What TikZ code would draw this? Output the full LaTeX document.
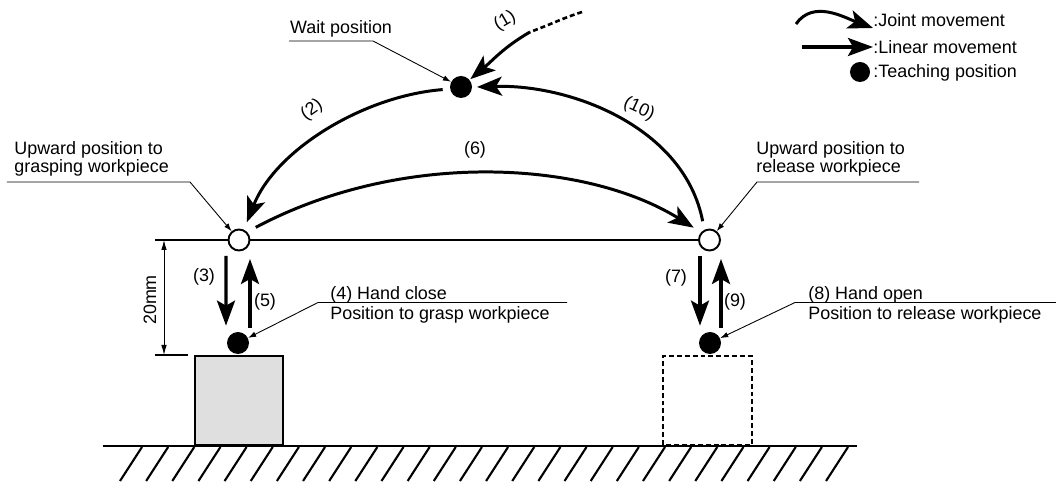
\documentclass[tikz,border=0pt]{standalone}
\usepackage{fontspec}
\setmainfont{Liberation Sans}
\usetikzlibrary{arrows.meta, calc, backgrounds}
\tikzset{
  jointmove/.style={line width=1.7pt, -{Stealth[length=5mm, width=3.8mm, inset=1.2mm]}},
  linmove/.style={line width=1.9pt, -{Stealth[length=5mm, width=3.6mm, inset=1mm]}},
  teachpos/.style={circle, fill=black, minimum size=4.4mm, inner sep=0pt},
  upperpos/.style={circle, draw=black, fill=white, line width=1.1pt, minimum size=4.2mm, inner sep=0pt},
  leader/.style={line width=0.5pt, -{Latex[length=1.6mm, width=1.1mm]}},
  dimline/.style={line width=0.5pt, {Latex[length=2mm, width=1.1mm]}-{Latex[length=2mm, width=1.1mm]}},
  thinline/.style={line width=0.6pt},
  lbl/.style={inner sep=0pt, align=left},
  hatch/.style={line width=1.2pt},
}

\begin{document}
\begin{tikzpicture}[font=\fontsize{10.2}{10.6}\selectfont]
  \useasboundingbox (0,0) rectangle (21.12,9.7);
  % ground and workpieces
  \draw[line width=1.7pt] (2.06,0.78) -- (17.14,0.78);
  \foreach \i in {0,...,27}
    \draw[hatch] ({2.84+0.523*\i},0.76) -- ++(-0.44,-0.68);
  \draw[line width=1.3pt, fill=gray!25] (3.90,0.80) rectangle (5.66,2.58);
  \draw[line width=1.3pt, dash pattern=on 2.8pt off 1.7pt] (13.26,0.80) rectangle (15.04,2.58);
  % positions
  \node[teachpos] (W) at (9.22,7.96) {};
  \node[upperpos] (G) at (4.78,4.90) {};
  \node[upperpos] (R) at (14.19,4.90) {};
  \node[teachpos] (GD) at (4.76,2.84) {};
  \node[teachpos] (RD) at (14.20,2.84) {};
  % reference line and 20mm dimension
  \begin{scope}[on background layer]
    \draw[thinline] (3.10,4.90) -- (R.center);
  \end{scope}
  \draw[thinline] (3.10,2.60) -- (3.76,2.60);
  \draw[dimline] (3.28,4.90) -- (3.28,2.60);
  \node[rotate=90] (dimlbl) at (3.00,3.70) {20mm};
  % joint movements
  \coordinate (dashstart) at (11.64,9.46);
  \coordinate (dashend) at (10.60,9.06);
  \draw[line width=1.5pt, dash pattern=on 2.8pt off 1.7pt] (dashstart) to[out=198,in=20] (dashend);
  \draw[jointmove, shorten >=0.5pt] (dashend) to[out=210,in=40] (W);
  \draw[jointmove] ($(W)+(188:0.37)$) .. controls ($(W)+(-1.96,-0.18)$) and ($(G)+(0.73,1.80)$) .. ($(G)+(66:0.39)$);
  \draw[jointmove] ($(G)+(37:0.42)$) .. controls ($(G)+(3.25,1.80)$) and ($(R)+(-2.50,1.60)$) .. ($(R)+(142:0.40)$);
  \draw[jointmove] ($(R)+(110:0.40)$) .. controls ($(R)+(-0.50,2.25)$) and ($(W)+(2.20,0.06)$) .. ($(W)+(0:0.32)$);
  \node[rotate=30] (l1) at (10.10,9.28) {(1)};
  \node[rotate=35] (l2) at (6.24,7.50) {(2)};
  \node (l6) at (9.50,6.70) {(6)};
  \node[rotate=-25] (l10) at (12.78,7.52) {(10)};
  % linear movements
  \draw[linmove] ($(G.south)+(-0.26,-0.09)$) -- ($(GD.north)+(-0.24,0.12)$);
  \draw[linmove] ($(GD.north)+(0.24,0.08)$) -- ($(G.south)+(0.22,-0.15)$);
  \draw[linmove] ($(R.south)+(-0.19,-0.09)$) -- ($(RD.north)+(-0.20,0.12)$);
  \draw[linmove] ($(RD.north)+(0.22,0.08)$) -- ($(R.south)+(0.23,-0.15)$);
  \node (l3) at (4.08,4.16) {(3)};
  \node (l5) at (5.30,3.66) {(5)};
  \node (l7) at (13.52,4.14) {(7)};
  \node (l9) at (14.70,3.66) {(9)};
  % annotations
  \node[lbl] (waitlbl) at (6.82,9.12) {Wait position};
  \draw[leader] (5.78,8.88) -- (7.46,8.88) -- (W);
  \node[lbl, anchor=south west] (graspup) at (0.28,6.16) {Upward position to\\grasping workpiece};
  \draw[leader] (0.14,6.06) -- (3.80,6.06) -- (G);
  \node[lbl, anchor=south west] (releaseup) at (15.12,6.16) {Upward position to\\release workpiece};
  \draw[leader] (18.38,6.06) -- (15.14,6.06) -- (R);
  \node[lbl, anchor=base west] (closelbl) at (6.60,3.71) {(4) Hand close};
  \node[lbl, anchor=base west] (grasplbl) at (6.60,3.31) {Position to grasp workpiece};
  \draw[leader] (11.34,3.65) -- (6.36,3.65) -- (GD);
  \node[lbl, anchor=base west] (openlbl) at (16.16,3.71) {(8) Hand open};
  \node[lbl, anchor=base west] (releaselbl) at (16.16,3.31) {Position to release workpiece};
  \draw[leader] (21.12,3.65) -- (15.90,3.65) -- (RD);
  % legend
  \coordinate (jointa) at (15.92,9.22);
  \coordinate (jointb) at (17.46,9.14);
  \draw[jointmove] (jointa) to[out=55,in=160] (jointb);
  \coordinate (lina) at (16.04,8.76);
  \coordinate (linb) at (17.46,8.76);
  \draw[linmove] (lina) -- (linb);
  \node[teachpos, minimum size=4mm] (keydot) at (17.20,8.26) {};
  \node[lbl, anchor=west] (jointlbl) at (17.46,9.30) {:Joint movement};
  \node[lbl, anchor=west] (linlbl) at (17.46,8.76) {:Linear movement};
  \node[lbl, anchor=west] (teachlbl) at (17.46,8.24) {:Teaching position};
\end{tikzpicture}
\end{document}
